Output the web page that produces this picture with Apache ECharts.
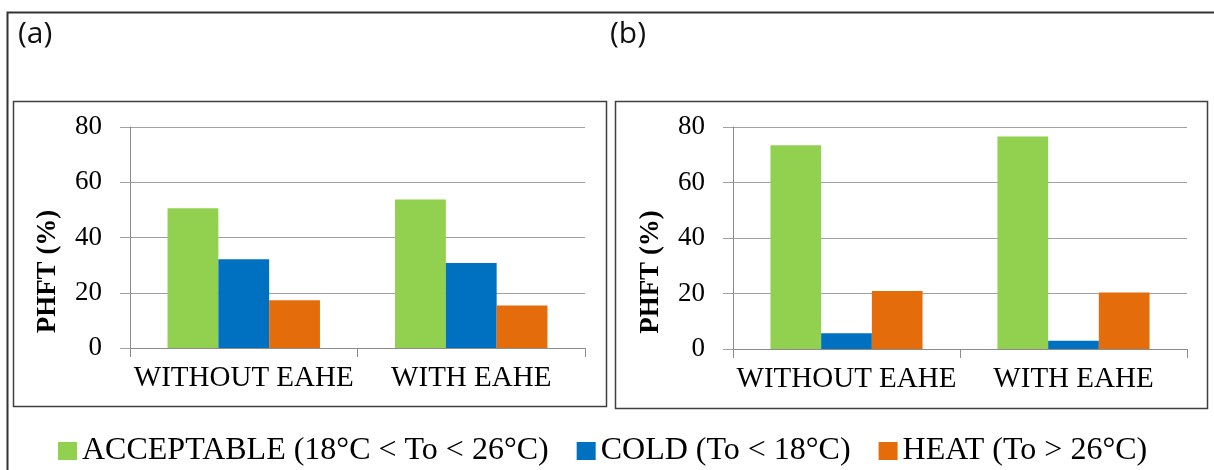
<!DOCTYPE html>
<html>
<head>
<meta charset="utf-8">
<script src="https://cdn.jsdelivr.net/npm/echarts@6/dist/echarts.min.js"></script>
<style>html,body{margin:0;padding:0;background:#fff}#c{width:1214px;height:470px}</style>
</head>
<body>
<div id="c"></div>
<script>
const categories = ['WITHOUT EAHE', 'WITH EAHE'];
const seriesNames = ['ACCEPTABLE (18°C < To < 26°C)', 'COLD (To < 18°C)', 'HEAT (To > 26°C)'];
const acceptableA = [50.6, 53.8];
const coldA = [32.1, 30.8];
const heatA = [17.3, 15.4];
const acceptableB = [73.4, 76.6];
const coldB = [5.7, 3.0];
const heatB = [20.9, 20.4];
const yTicks = { min: 0, max: 80, interval: 20 };
const panelLabels = ['(a)', '(b)'];
const yName = 'PHFT (%)';

const colors = ['#92d050', '#0070c0', '#e46c0a'];
const serif = '"Liberation Serif", "Times New Roman", serif';
const gridC = '#a0a0a0';

function xAx(gi) {
  return {
    type: 'category', gridIndex: gi, data: categories,
    axisLine: { lineStyle: { color: '#8c8c8c', width: 1 } },
    axisTick: { show: true, length: 9, lineStyle: { color: '#8c8c8c' } },
    axisLabel: { color: '#000', fontFamily: serif, fontSize: 29, margin: 16, interval: 0 }
  };
}
function yAx(gi) {
  return {
    type: 'value', gridIndex: gi, min: yTicks.min, max: yTicks.max, interval: yTicks.interval,
    name: yName, nameLocation: 'middle', nameRotate: 90, nameGap: 68,
    nameTextStyle: { color: '#000', fontFamily: serif, fontSize: 27, fontWeight: 'bold', padding: [0, 68, 0, 0] },
    axisLine: { show: true, lineStyle: { color: '#8c8c8c', width: 1 } },
    axisTick: { show: true, length: 10, lineStyle: { color: gridC } },
    splitLine: { lineStyle: { color: gridC, width: 1 } },
    axisLabel: { color: '#000', fontFamily: serif, fontSize: 27, margin: 28 }
  };
}
function bar(name, data, ci, gi) {
  return {
    name: name, type: 'bar', data: data, xAxisIndex: gi, yAxisIndex: gi,
    barGap: '0%', barCategoryGap: '33%',
    itemStyle: { color: colors[ci] }
  };
}

const labelFont = { fontFamily: '"Open Sans", "Noto Sans", sans-serif', fontWeight: 'normal', fontSize: 30, color: '#111' };
const chart = echarts.init(document.getElementById('c'));
chart.setOption({
  animation: false,
  title: [
    { text: panelLabels[0], left: 13, top: 14, textStyle: labelFont },
    { text: panelLabels[1], left: 605, top: 14, textStyle: labelFont }
  ],
  grid: [
    { left: 130, right: 629, top: 127, bottom: 122 },
    { left: 733, right: 27, top: 127, bottom: 121 }
  ],
  xAxis: [xAx(0), xAx(1)],
  yAxis: [yAx(0), yAx(1)],
  legend: {
    left: 53, top: 430, itemWidth: 19, itemHeight: 18, itemGap: 28, icon: 'rect',
    data: seriesNames,
    textStyle: { color: '#000', fontFamily: serif, fontSize: 32 }
  },
  series: [
    bar(seriesNames[0], acceptableA, 0, 0),
    bar(seriesNames[1], coldA, 1, 0),
    bar(seriesNames[2], heatA, 2, 0),
    bar(seriesNames[0], acceptableB, 0, 1),
    bar(seriesNames[1], coldB, 1, 1),
    bar(seriesNames[2], heatB, 2, 1)
  ],
  graphic: [
    { type: 'polyline', shape: { points: [[7.5, 471], [7.5, 12.5], [1214, 12.5]] }, style: { stroke: '#333', lineWidth: 2, fill: null }, silent: true },
    { type: 'rect', shape: { x: 13.5, y: 101.5, width: 593, height: 305 }, style: { stroke: '#404040', lineWidth: 1.5, fill: null }, silent: true },
    { type: 'rect', shape: { x: 615.5, y: 101.5, width: 592, height: 307 }, style: { stroke: '#404040', lineWidth: 1.5, fill: null }, silent: true }
  ]
});
</script>
</body>
</html>
